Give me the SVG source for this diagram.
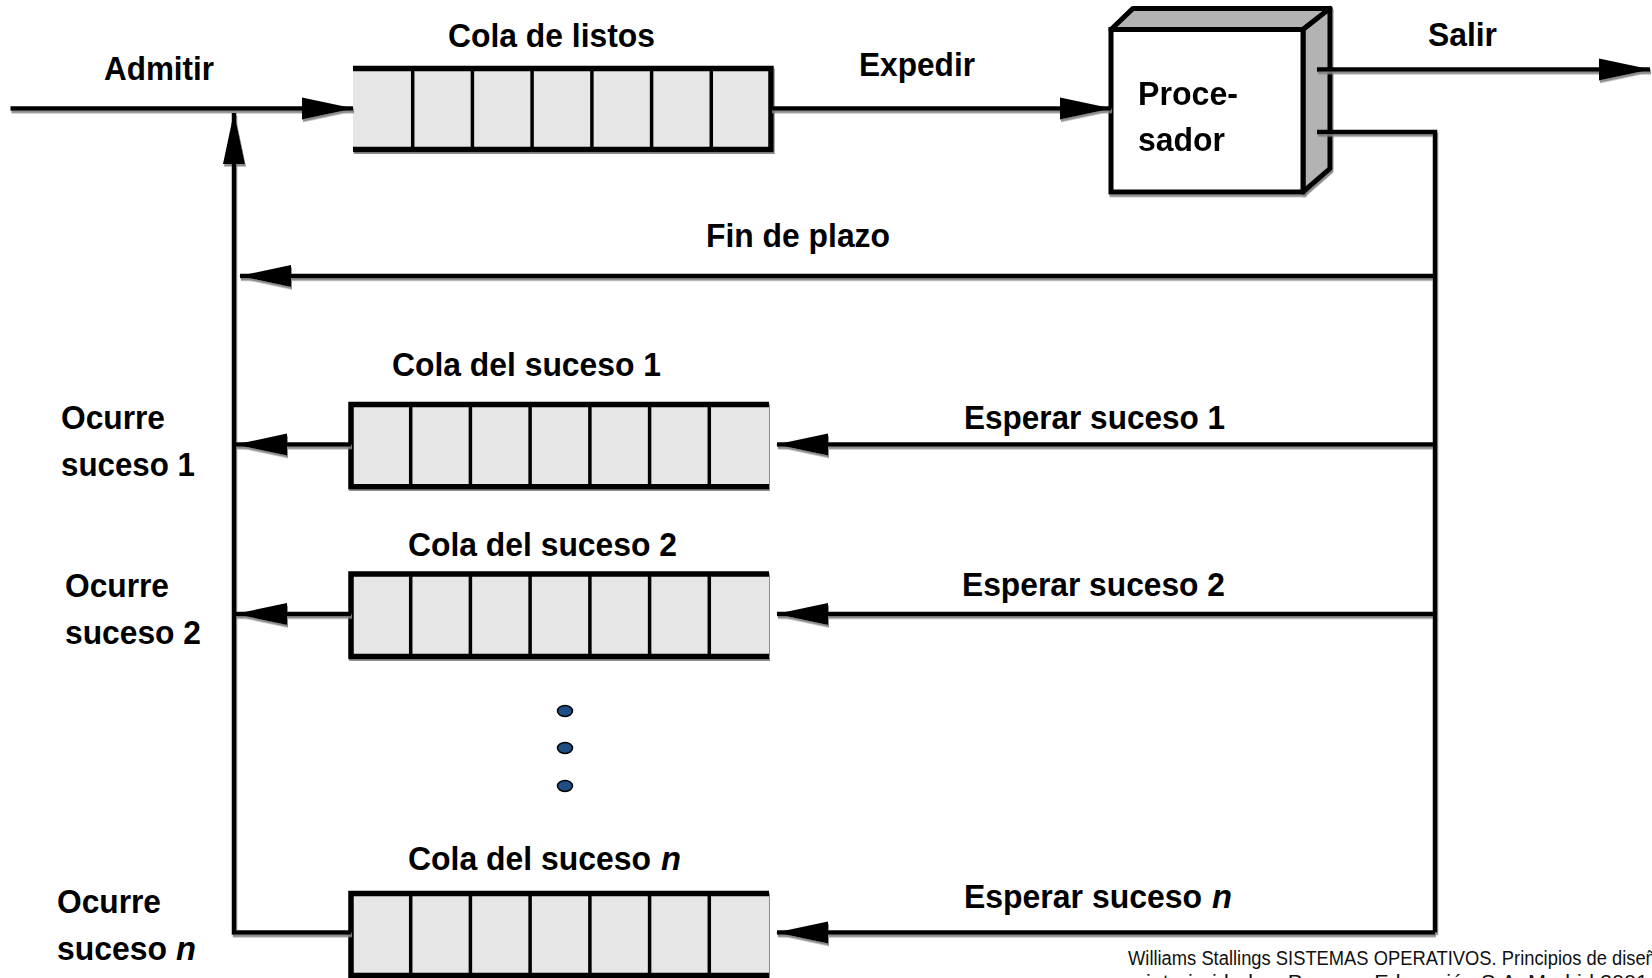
<svg xmlns="http://www.w3.org/2000/svg" width="1652" height="978" viewBox="0 0 1652 978">
<style>
.lbl{font-family:"Liberation Sans",Arial,sans-serif;font-weight:bold;font-size:33px;fill:#000}
.it{font-style:italic}
.cr{font-family:"Liberation Sans",Arial,sans-serif;font-size:20px;fill:#111}
.ln{fill:none;stroke:#000;stroke-width:4.5}
.cell{fill:#e6e6e6;stroke:none}
.edge{stroke:#000;stroke-width:5.5;fill:none}
.div{stroke:#000;stroke-width:3.5;fill:none}
.dot{fill:#1f4e85;stroke:#000;stroke-width:1.5}
</style>
<defs>
<marker id="ah" markerUnits="userSpaceOnUse" markerWidth="52" markerHeight="24" refX="51" refY="12" orient="auto">
<path d="M0,1 L52,12 L0,23 z" fill="#000"/>
</marker>
<filter id="sh" x="-5%" y="-5%" width="110%" height="110%">
<feDropShadow dx="1" dy="2.5" stdDeviation="0.6" flood-color="#808080" flood-opacity="0.9"/>
</filter>
</defs>
<rect width="1652" height="978" fill="#fff"/>

<g id="ready-queue" filter="url(#sh)">
<rect class="cell" x="353" y="68.5" width="418" height="81"/>
<path class="edge" d="M353,68.5 H771 V149.6 H353"/>
<path class="div" d="M412.7,68.5 V149.6 M472.4,68.5 V149.6 M532.1,68.5 V149.6 M591.9,68.5 V149.6 M651.6,68.5 V149.6 M711.3,68.5 V149.6"/>
</g>
<text class="lbl" x="448" y="47" textLength="207" lengthAdjust="spacingAndGlyphs">Cola de listos</text>

<g id="processor" filter="url(#sh)">
<path d="M1111,29.5 L1133,8.4 L1330,8.4 L1303,29.5 Z" fill="#b3b3b3" stroke="#000" stroke-width="5" stroke-linejoin="round"/>
<path d="M1303,29.5 L1330,8.4 L1330,168.6 L1303,192 Z" fill="#b3b3b3" stroke="#000" stroke-width="5" stroke-linejoin="round"/>
<rect x="1111" y="29.5" width="192" height="162.5" fill="#fff" stroke="#000" stroke-width="5"/>
<text class="lbl" x="1138" y="105" textLength="100" lengthAdjust="spacingAndGlyphs">Proce-</text>
<text class="lbl" x="1138" y="151" textLength="87" lengthAdjust="spacingAndGlyphs">sador</text>
</g>

<g id="event-queue-1" filter="url(#sh)">
<rect class="cell" x="351" y="404.6" width="418" height="82"/>
<path class="edge" d="M769,404.6 H351 V486.8 H769"/>
<path class="div" d="M410.7,404.6 V486.8 M470.4,404.6 V486.8 M530.1,404.6 V486.8 M589.9,404.6 V486.8 M649.6,404.6 V486.8 M709.3,404.6 V486.8"/>
</g>
<text class="lbl" x="392" y="376" textLength="269" lengthAdjust="spacingAndGlyphs">Cola del suceso 1</text>

<g id="event-queue-2" filter="url(#sh)">
<rect class="cell" x="351" y="574" width="418" height="82.4"/>
<path class="edge" d="M769,574 H351 V656.4 H769"/>
<path class="div" d="M410.7,574 V656.4 M470.4,574 V656.4 M530.1,574 V656.4 M589.9,574 V656.4 M649.6,574 V656.4 M709.3,574 V656.4"/>
</g>
<text class="lbl" x="408" y="556" textLength="269" lengthAdjust="spacingAndGlyphs">Cola del suceso 2</text>

<g id="event-queue-n" filter="url(#sh)">
<rect class="cell" x="351" y="893.5" width="418" height="82"/>
<path class="edge" d="M769,893.5 H351 V975.6 H769"/>
<path class="div" d="M410.7,893.5 V975.6 M470.4,893.5 V975.6 M530.1,893.5 V975.6 M589.9,893.5 V975.6 M649.6,893.5 V975.6 M709.3,893.5 V975.6"/>
</g>
<text class="lbl" x="408" y="870" textLength="243" lengthAdjust="spacingAndGlyphs">Cola del suceso</text>
<text class="lbl it" x="661" y="870" textLength="20" lengthAdjust="spacingAndGlyphs">n</text>

<g id="ellipsis">
<ellipse class="dot" cx="565" cy="711" rx="7.5" ry="5.5"/>
<ellipse class="dot" cx="565" cy="748" rx="7.5" ry="5.5"/>
<ellipse class="dot" cx="565" cy="786" rx="7.5" ry="5.5"/>
</g>

<g id="connectors" filter="url(#sh)">
<path class="ln" d="M10.5,108.5 H353" marker-end="url(#ah)"/>
<path class="ln" d="M771,108.5 H1111" marker-end="url(#ah)"/>
<path class="ln" d="M1317,69.5 H1650" marker-end="url(#ah)"/>
<path class="ln" d="M351,932.5 H234 V113" marker-end="url(#ah)"/>
<path class="ln" d="M1317,132 H1435 V932.5"/>
<path class="ln" d="M1435,276 H240" marker-end="url(#ah)"/>
<path class="ln" d="M1435,444.6 H777" marker-end="url(#ah)"/>
<path class="ln" d="M1435,614 H777" marker-end="url(#ah)"/>
<path class="ln" d="M1435,932.5 H777" marker-end="url(#ah)"/>
<path class="ln" d="M351,444.6 H236" marker-end="url(#ah)"/>
<path class="ln" d="M351,614 H236" marker-end="url(#ah)"/>
</g>

<g id="labels">
<text class="lbl" x="104" y="80" textLength="110" lengthAdjust="spacingAndGlyphs">Admitir</text>
<text class="lbl" x="859" y="76" textLength="116" lengthAdjust="spacingAndGlyphs">Expedir</text>
<text class="lbl" x="1428" y="46" textLength="69" lengthAdjust="spacingAndGlyphs">Salir</text>
<text class="lbl" x="706" y="247" textLength="184" lengthAdjust="spacingAndGlyphs">Fin de plazo</text>
<text class="lbl" x="964" y="429" textLength="261" lengthAdjust="spacingAndGlyphs">Esperar suceso 1</text>
<text class="lbl" x="962" y="596" textLength="263" lengthAdjust="spacingAndGlyphs">Esperar suceso 2</text>
<text class="lbl" x="964" y="908" textLength="238" lengthAdjust="spacingAndGlyphs">Esperar suceso</text>
<text class="lbl it" x="1212" y="908" textLength="20" lengthAdjust="spacingAndGlyphs">n</text>
<text class="lbl" x="61" y="429" textLength="104" lengthAdjust="spacingAndGlyphs">Ocurre</text>
<text class="lbl" x="61" y="476" textLength="134" lengthAdjust="spacingAndGlyphs">suceso 1</text>
<text class="lbl" x="65" y="597" textLength="104" lengthAdjust="spacingAndGlyphs">Ocurre</text>
<text class="lbl" x="65" y="644" textLength="136" lengthAdjust="spacingAndGlyphs">suceso 2</text>
<text class="lbl" x="57" y="913" textLength="104" lengthAdjust="spacingAndGlyphs">Ocurre</text>
<text class="lbl" x="57" y="960" textLength="110" lengthAdjust="spacingAndGlyphs">suceso</text>
<text class="lbl it" x="176" y="960" textLength="20" lengthAdjust="spacingAndGlyphs">n</text>
</g>

<g id="credit">
<text class="cr" x="1128" y="965" textLength="538" lengthAdjust="spacingAndGlyphs">Williams Stallings SISTEMAS OPERATIVOS. Principios de diseño</text>
<text class="cr" x="1128" y="989" textLength="520" lengthAdjust="spacingAndGlyphs">e interioridades. Pearson Educación S.A. Madrid 2001</text>
</g>
</svg>
